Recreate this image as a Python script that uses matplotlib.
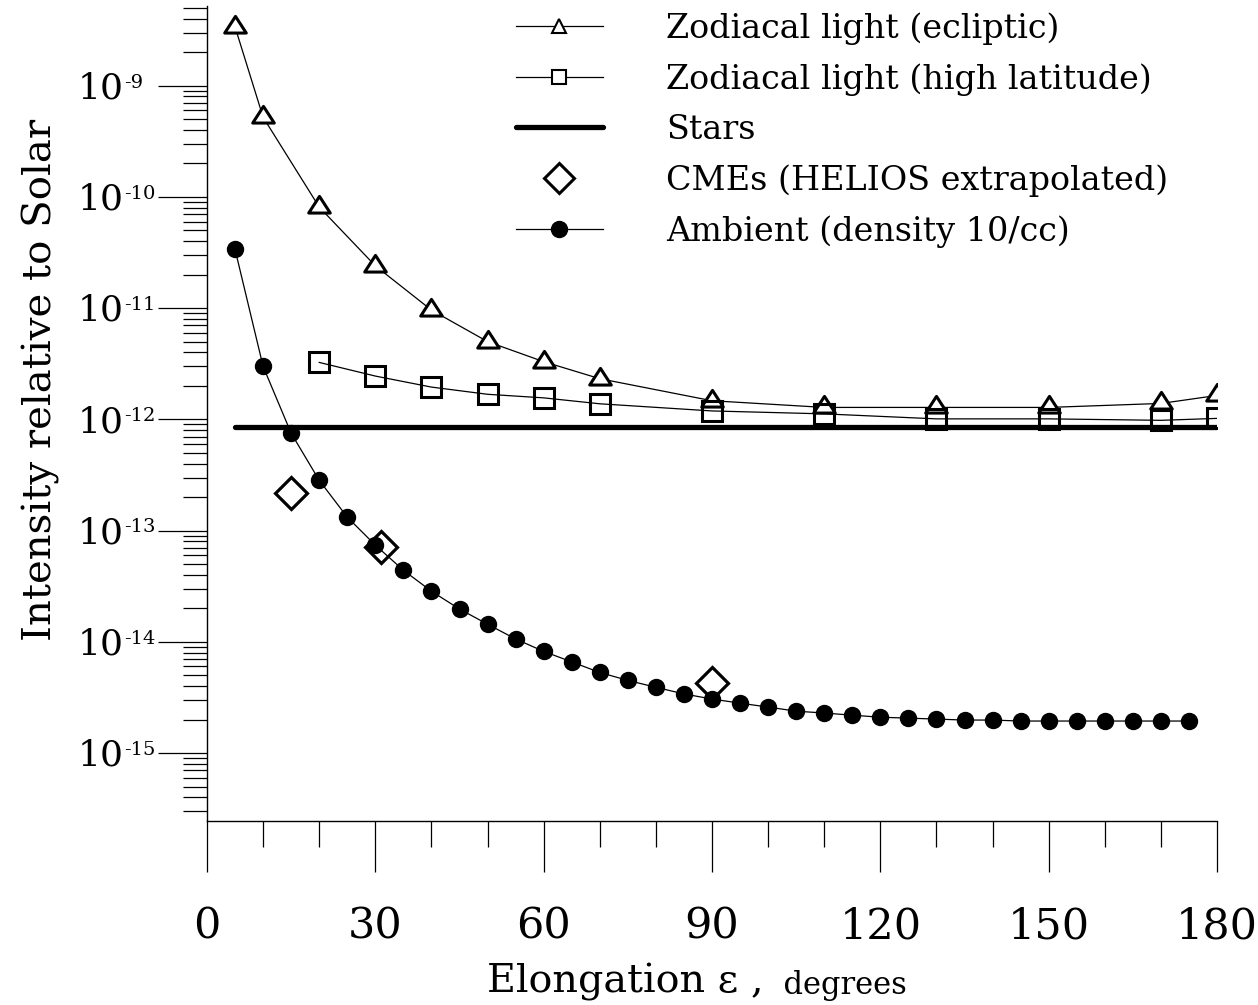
import matplotlib
matplotlib.use("Agg")
import matplotlib.pyplot as plt
from matplotlib.lines import Line2D
from matplotlib.path import Path
from matplotlib.transforms import blended_transform_factory
from matplotlib.ticker import MultipleLocator, LogLocator, NullFormatter, FixedLocator
import numpy as np

plt.rcParams['font.family'] = ['DejaVu Serif']

# zodiacal light along the ecliptic
zodi_ecl_x = [5, 10, 20, 30, 40, 50, 60, 70, 90, 110, 130, 150, 170, 180]
zodi_ecl_y = [3.37e-9, 5.2e-10, 8.1e-11, 2.4e-11, 9.6e-12, 5.0e-12, 3.3e-12,
              2.32e-12, 1.47e-12, 1.28e-12, 1.28e-12, 1.28e-12, 1.39e-12, 1.64e-12]

# zodiacal light at high ecliptic latitude
zodi_hi_x = [20, 30, 40, 50, 60, 70, 90, 110, 130, 150, 170, 180]
zodi_hi_y = [3.25e-12, 2.45e-12, 1.95e-12, 1.68e-12, 1.56e-12, 1.38e-12,
             1.19e-12, 1.12e-12, 1.01e-12, 1.01e-12, 0.98e-12, 1.02e-12]

# background starlight
stars_x = [5, 180]
stars_y = [8.5e-13, 8.5e-13]

# CME brightness extrapolated from HELIOS
cme_x = [15, 31, 90]
cme_y = [2.16e-13, 7.1e-14, 4.25e-15]

# ambient solar wind, 10 per cc
amb_x = list(range(5, 180, 5))
amb_y = [3.37e-11, 2.99e-12, 7.5e-13, 2.83e-13, 1.32e-13, 7.4e-14, 4.4e-14,
         2.85e-14, 1.97e-14, 1.44e-14, 1.06e-14, 8.2e-15, 6.6e-15, 5.3e-15,
         4.5e-15, 3.9e-15, 3.4e-15, 3.06e-15, 2.81e-15, 2.59e-15, 2.38e-15,
         2.29e-15, 2.19e-15, 2.10e-15, 2.06e-15, 2.02e-15, 1.98e-15, 1.98e-15,
         1.94e-15, 1.94e-15, 1.94e-15, 1.94e-15, 1.94e-15, 1.94e-15, 1.94e-15]

labels = ['Zodiacal light (ecliptic)', 'Zodiacal light (high latitude)', 'Stars',
          'CMEs (HELIOS extrapolated)', 'Ambient (density 10/cc)']

decades = list(range(-15, -8))

# wide triangle with its centroid on the data point
tri = Path([(0, 1.03), (-1, -0.515), (1, -0.515), (0, 1.03)],
           [Path.MOVETO, Path.LINETO, Path.LINETO, Path.CLOSEPOLY])

fig = plt.figure(figsize=(12.58, 10.05), dpi=100)
ax = fig.add_axes([207 / 1258, 1 - 821 / 1005, 1010 / 1258, 815 / 1005])

ax.plot(zodi_ecl_x, zodi_ecl_y, color='black', lw=0.9, marker=tri, ms=16,
        mfc='white', mec='black', mew=2.2)
ax.plot(zodi_hi_x, zodi_hi_y, color='black', lw=0.9, marker='s', ms=14.5,
        mfc='none', mec='black', mew=2.2)
ax.plot(stars_x, stars_y, color='black', lw=3.8, solid_capstyle='round')
ax.plot(cme_x, cme_y, ls='none', marker='D', ms=16, mfc='none', mec='black', mew=2.3)
ax.plot(amb_x, amb_y, color='black', lw=0.9, marker='o', ms=11.5,
        mfc='black', mec='black')

ax.set_yscale('log')
ax.set_xlim(0, 180)
ax.set_ylim(2.45e-16, 5.2e-9)

for s in ['top', 'right']:
    ax.spines[s].set_visible(False)
for s in ['left', 'bottom']:
    ax.spines[s].set_linewidth(1.0)

ax.xaxis.set_major_locator(MultipleLocator(30))
ax.xaxis.set_minor_locator(MultipleLocator(10))
ax.tick_params(axis='x', which='major', direction='out', length=37, width=0.9,
               pad=24, labelsize=31)
ax.tick_params(axis='x', which='minor', direction='out', length=18.5, width=0.9)

ax.yaxis.set_major_locator(FixedLocator([10.0 ** k for k in decades]))
ax.yaxis.set_minor_locator(LogLocator(base=10, subs=np.arange(2, 10), numticks=30))
ax.yaxis.set_minor_formatter(NullFormatter())
ax.tick_params(axis='y', which='major', direction='out', length=35, width=0.9,
               labelleft=False)
ax.tick_params(axis='y', which='minor', direction='out', length=17.5, width=0.9)

# decade labels: "10" with a small raised exponent
trans = blended_transform_factory(fig.transFigure, ax.transData)
for k in decades:
    base = ax.annotate('10', xy=(78 / 1258, 10.0 ** k), xycoords=trans,
                       xytext=(0, -2), textcoords='offset points', fontsize=26,
                       ha='left', va='center', annotation_clip=False)
    ax.annotate('-%d' % -k, xy=(1, 1), xycoords=base, xytext=(0.3, -1.5),
                textcoords='offset points', fontsize=14, ha='left', va='top')

ax.set_ylabel('Intensity relative to Solar', fontsize=29)
ax.yaxis.set_label_coords((60 - 207) / 1010, (821 - 380) / 815)

# x label: "degrees" set in a smaller size after the symbol
xl = fig.text(487 / 1258, 0.004, 'Elongation ε ,', fontsize=28.5, ha='left', va='bottom')
ax.annotate('  degrees', xy=(1, 0), xycoords=xl, fontsize=22, ha='left', va='bottom')

handles = [
    Line2D([], [], color='black', lw=0.9, marker='^', ms=10, mfc='white', mec='black', mew=1.5),
    Line2D([], [], color='black', lw=0.9, marker='s', ms=10, mfc='white', mec='black', mew=1.5),
    Line2D([], [], color='black', lw=3.8, solid_capstyle='round'),
    Line2D([], [], ls='none', marker='D', ms=15, mfc='none', mec='black', mew=2.2),
    Line2D([], [], color='black', lw=0.9, marker='o', ms=11.5, mfc='black', mec='black'),
]
ax.legend(handles, labels, loc='upper left', bbox_to_anchor=(516 / 1258, 1 - 12 / 1005),
          bbox_transform=fig.transFigure, frameon=False, fontsize=24, numpoints=1,
          handlelength=2.6, handletextpad=1.9, labelspacing=0.55, borderpad=0,
          borderaxespad=0)

fig.savefig('out.png', dpi=100)
